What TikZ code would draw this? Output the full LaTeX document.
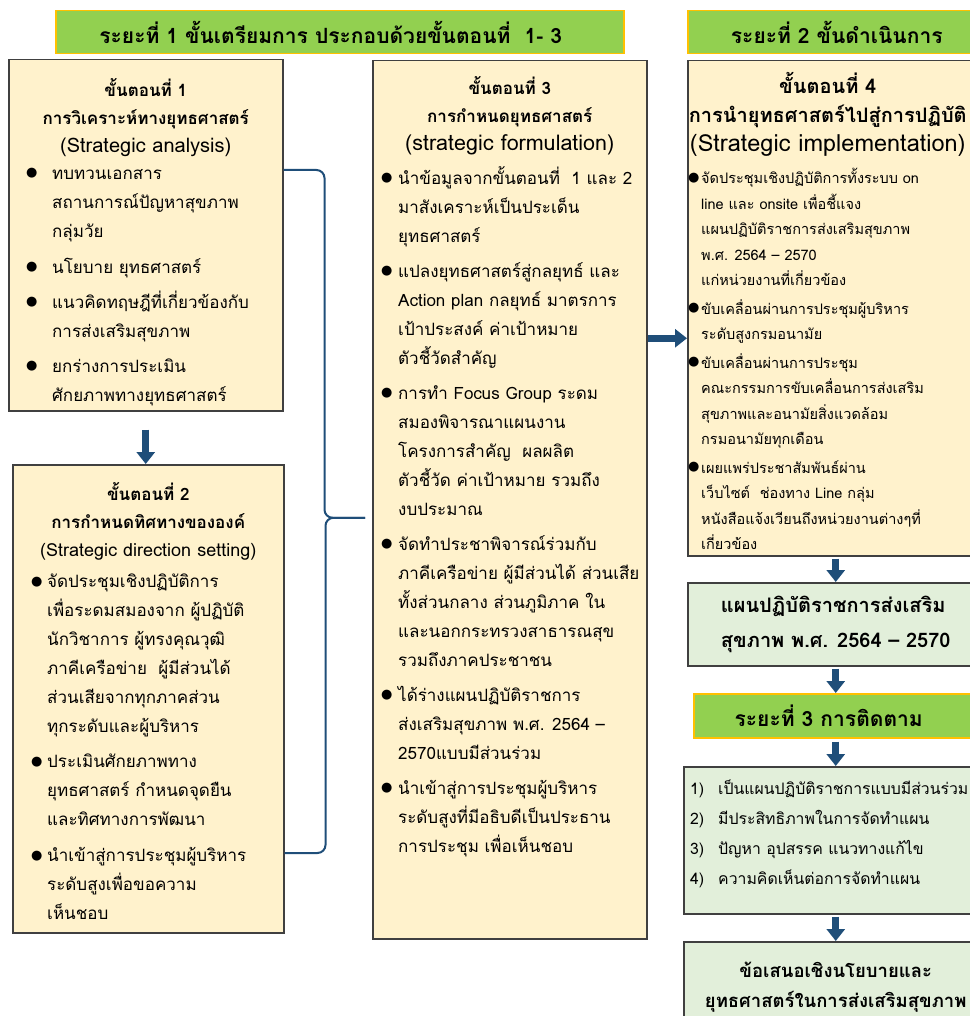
\documentclass[tikz,border=0pt]{standalone}
\usepackage{fontspec}
\setmainfont[Script=Thai]{Loma}
\newfontfamily\symfont{DejaVu Sans}
\usetikzlibrary{arrows.meta}

\definecolor{hdrgreen}{RGB}{146,208,80}
\definecolor{hdrgold}{RGB}{255,192,0}
\definecolor{cream}{RGB}{255,242,204}
\definecolor{palegreen}{RGB}{226,239,218}
\definecolor{arrowblue}{RGB}{31,78,121}
\definecolor{boxline}{RGB}{64,64,64}

\newlength{\bw}
\newcommand{\bl}{\makebox[\bw][l]{\raisebox{2.5pt}{\fontsize{13}{13}\symfont ●}}}
\newcommand{\ct}{\hspace*{\bw}}

\begin{document}
\begin{tikzpicture}[x=1pt,y=-1pt,
    header/.style={draw=hdrgold, fill=hdrgreen, line width=1.5pt, anchor=north west,
      font=\bfseries\fontsize{21}{24}\selectfont},
    stepbox/.style={draw=boxline, fill=cream, line width=1.5pt, anchor=north west},
    planbox/.style={draw=boxline, fill=palegreen, line width=1.5pt, anchor=north west},
    heading/.style={align=center, inner sep=0pt, anchor=north,
      font=\fontsize{17}{28}\selectfont},
    items/.style={align=left, inner sep=0pt, anchor=north west,
      font=\fontsize{17}{29}\selectfont, execute at begin node={\setlength{\bw}{#1}}},
    items/.default=16pt,
    flow/.style={draw=arrowblue, line width=7pt, -{Triangle[width=18pt,length=12pt]}},
    bracelink/.style={draw=arrowblue, line width=2pt, rounded corners=8pt}]
    \useasboundingbox (0,0) rectangle (969,1016);

    % Phase headers
    \node[header, minimum width=568pt, minimum height=43pt] (p1) at (55,10)
        {ระยะที่ 1 ขั้นเตรียมการ ประกอบด้วยขั้นตอนที่~~1- 3\hspace*{18pt}};
    \node[header, minimum width=298pt, minimum height=43pt] (p2) at (687,10)
        {ระยะที่ 2 ขั้นดำเนินการ};

    % Step 1
    \node[stepbox, minimum width=274pt, minimum height=351pt] (s1) at (8,59) {};
    \node[heading] (s1h) at ([yshift=-19pt]s1.north)
        {\textbf{ขั้นตอนที่ 1}\\\textbf{การวิเคราะห์ทางยุทธศาสตร์}\\{\fontsize{20}{28}\selectfont(Strategic analysis)}};
    \node[items=26pt] (s1l) at ([xshift=18pt,yshift=-109pt]s1.north west)
        {\bl ทบทวนเอกสาร\\\ct สถานการณ์ปัญหาสุขภาพ\\\ct กลุ่มวัย\\[7pt]
         \bl นโยบาย ยุทธศาสตร์\\[6pt]
         \bl แนวคิดทฤษฎีที่เกี่ยวข้องกับ\\\ct การส่งเสริมสุขภาพ\\[6pt]
         \bl ยกร่างการประเมิน\\\ct ศักยภาพทางยุทธศาสตร์};

    % Step 2
    \node[stepbox, minimum width=271pt, minimum height=468pt] (s2) at (12,464) {};
    \node[heading] (s2h) at ([yshift=-18pt]s2.north)
        {\textbf{ขั้นตอนที่ 2}\\\textbf{การกำหนดทิศทางขององค์}\\{\fontsize{18}{28}\selectfont(Strategic direction setting)}};
    \node[items=16pt] (s2l) at ([xshift=19pt,yshift=-110pt]s2.north west)
        {\bl จัดประชุมเชิงปฏิบัติการ\\\ct เพื่อระดมสมองจาก ผู้ปฏิบัติ\\\ct นักวิชาการ ผู้ทรงคุณวุฒิ\\\ct ภาคีเครือข่าย~~ผู้มีส่วนได้\\\ct ส่วนเสียจากทุกภาคส่วน\\\ct ทุกระดับและผู้บริหาร\\[6pt]
         \bl ประเมินศักยภาพทาง\\\ct ยุทธศาสตร์ กำหนดจุดยืน\\\ct และทิศทางการพัฒนา\\[7pt]
         \bl นำเข้าสู่การประชุมผู้บริหาร\\\ct ระดับสูงเพื่อขอความ\\\ct เห็นชอบ};

    % Step 3
    \node[stepbox, minimum width=274pt, minimum height=878pt] (s3) at (372,60) {};
    \node[heading] (s3h) at ([yshift=-16pt]s3.north)
        {\textbf{ขั้นตอนที่ 3}\\\textbf{การกำหนดยุทธศาสตร์}\\{\fontsize{21.5}{29}\selectfont(strategic formulation)}};
    \node[items=17pt] (s3l) at ([xshift=9pt,yshift=-106pt]s3.north west)
        {\bl นำข้อมูลจากขั้นตอนที่~~1 และ 2\\\ct มาสังเคราะห์เป็นประเด็น\\\ct ยุทธศาสตร์\\[6pt]
         \bl แปลงยุทธศาสตร์สู่กลยุทธ์ และ\\\ct Action plan กลยุทธ์ มาตรการ\\\ct เป้าประสงค์ ค่าเป้าหมาย\\\ct ตัวชี้วัดสำคัญ\\[6pt]
         \bl การทำ Focus Group ระดม\\\ct สมองพิจารณาแผนงาน\\\ct โครงการสำคัญ~~ผลผลิต\\\ct ตัวชี้วัด ค่าเป้าหมาย รวมถึง\\\ct งบประมาณ\\[6pt]
         \bl จัดทำประชาพิจารณ์ร่วมกับ\\\ct ภาคีเครือข่าย ผู้มีส่วนได้ ส่วนเสีย\\\ct ทั้งส่วนกลาง ส่วนภูมิภาค ใน\\\ct และนอกกระทรวงสาธารณสุข\\\ct รวมถึงภาคประชาชน\\[6pt]
         \bl ได้ร่างแผนปฏิบัติราชการ\\\ct ส่งเสริมสุขภาพ พ.ศ. 2564 –\\\ct 2570แบบมีส่วนร่วม\\[6pt]
         \bl นำเข้าสู่การประชุมผู้บริหาร\\\ct ระดับสูงที่มีอธิบดีเป็นประธาน\\\ct การประชุม เพื่อเห็นชอบ};

    % Step 4
    \node[stepbox, minimum width=296pt, minimum height=495pt] (s4) at (687,60) {};
    \node[heading, font=\fontsize{20}{29}\selectfont] (s4h) at ([xshift=-8pt,yshift=-12pt]s4.north)
        {\textbf{ขั้นตอนที่ 4}\\\textbf{การนำยุทธศาสตร์ไปสู่การปฏิบัติ}\\{\fontsize{23.5}{29}\selectfont(Strategic implementation)}};
    \node[items=13pt, font=\fontsize{14.5}{25.5}\selectfont] (s4l) at ([xshift=1pt,yshift=-108pt]s4.north west)
        {\bl จัดประชุมเชิงปฏิบัติการทั้งระบบ on\\\ct line และ onsite เพื่อชี้แจง\\\ct แผนปฏิบัติราชการส่งเสริมสุขภาพ\\\ct พ.ศ. 2564 – 2570\\\ct แก่หน่วยงานที่เกี่ยวข้อง\\[3pt]
         \bl ขับเคลื่อนผ่านการประชุมผู้บริหาร\\\ct ระดับสูงกรมอนามัย\\[3pt]
         \bl ขับเคลื่อนผ่านการประชุม\\\ct คณะกรรมการขับเคลื่อนการส่งเสริม\\\ct สุขภาพและอนามัยสิ่งแวดล้อม\\\ct กรมอนามัยทุกเดือน\\[3pt]
         \bl เผยแพร่ประชาสัมพันธ์ผ่าน\\\ct เว็บไซต์~~ช่องทาง Line กลุ่ม\\\ct หนังสือแจ้งเวียนถึงหน่วยงานต่างๆที่\\\ct เกี่ยวข้อง};

    % Plan and follow-up
    \node[planbox, minimum width=296pt, minimum height=83pt, align=left,
          font=\bfseries\fontsize{20}{35}\selectfont] (plan) at (687,582)
        {แผนปฏิบัติราชการส่งเสริม\\สุขภาพ พ.ศ. 2564 – 2570};
    \node[header, minimum width=284pt, minimum height=44pt] (p3) at (693,693)
        {ระยะที่ 3 การติดตาม\hspace*{14pt}};
    \node[planbox, minimum width=304pt, minimum height=147pt] (eval) at (683,766) {};
    \node[align=left, inner sep=0pt, anchor=north west, font=\fontsize{15.8}{30}\selectfont]
        (evalt) at ([xshift=7pt,yshift=-14pt]eval.north west)
        {\makebox[28pt][l]{1)}เป็นแผนปฏิบัติราชการแบบมีส่วนร่วม\\
         \makebox[28pt][l]{2)}มีประสิทธิภาพในการจัดทำแผน\\
         \makebox[28pt][l]{3)}ปัญหา อุปสรรค แนวทางแก้ไข\\
         \makebox[28pt][l]{4)}ความคิดเห็นต่อการจัดทำแผน};
    \node[planbox, minimum width=304pt, minimum height=90pt, align=center,
          font=\bfseries\fontsize{18.5}{30}\selectfont] (prop) at (683,941)
        {ข้อเสนอเชิงนโยบายและ\\ยุทธศาสตร์ในการส่งเสริมสุขภาพ};

    % Brace joining steps 1 and 2 to step 3
    \coordinate (tip) at ([xshift=-7pt,yshift=-18pt]s3.west);
    \draw[bracelink] ([yshift=-111pt]s1.north east) -- ++(41,0) |- (tip);
    \draw[bracelink] ([yshift=-389pt]s2.north east) -- ++(41,0) |- (tip);

    % Arrows
    \coordinate (a34) at ([yshift=-30pt]s4.west);
    \draw[flow] ([yshift=-18pt]s1.south) -- (s1.south |- s2.north);
    \draw[flow] (s3.east |- a34) -- (a34);
    \draw[flow] ([yshift=-2pt]s4.south) -- (plan.north);
    \draw[flow] ([yshift=-2pt]plan.south) -- (p3.north);
    \draw[flow] ([yshift=-3pt]p3.south) -- (eval.north);
    \draw[flow] ([yshift=-2pt]eval.south) -- (prop.north);
\end{tikzpicture}
\end{document}
